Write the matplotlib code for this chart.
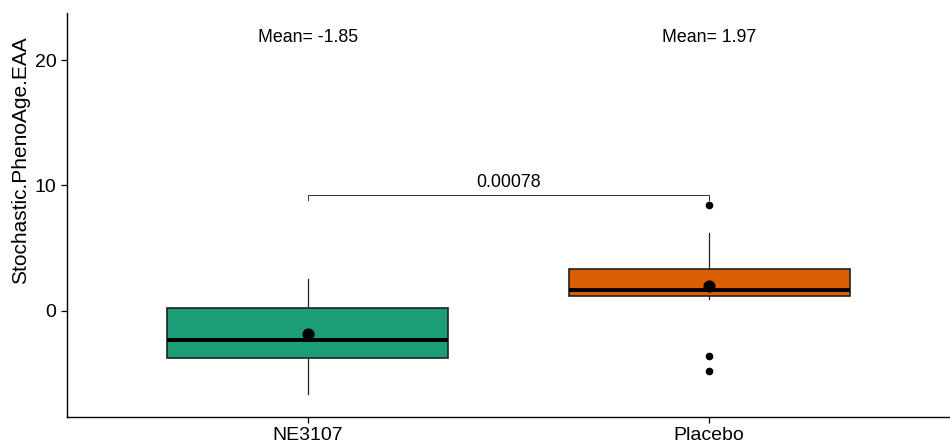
import matplotlib
matplotlib.use('Agg')
import matplotlib.pyplot as plt

plt.rcParams['font.family'] = ['Liberation Sans', 'DejaVu Sans']

# -------------------------------------------------------------------------------------------------------------------- #
# 数据
# -------------------------------------------------------------------------------------------------------------------- #
groups = ['NE3107', 'Placebo']
colors = ['#1B9E77', '#D95F02']
q1 = [-3.8, 1.2]
median = [-2.36, 1.65]
q3 = [0.19, 3.3]
whis_lo = [-6.65, 0.91]
whis_hi = [2.5, 6.18]
means = [-1.85, 1.97]
outliers = [[], [8.46, -3.64, -4.79]]
p_value = '0.00078'
bracket_y = 9.23
bracket_drop = 8.8
mean_label_y = 21.8

fig = plt.figure(figsize=(9.5, 4.48), dpi=100)
ax = fig.add_axes([67 / 950, 31 / 448, 883 / 950, 404 / 448])

stats = []
for i, g in enumerate(groups):
    stats.append(dict(label=g, q1=q1[i], med=median[i], q3=q3[i],
                      whislo=whis_lo[i], whishi=whis_hi[i], fliers=outliers[i]))
pos = list(range(1, len(groups) + 1))
bp = ax.bxp(stats, positions=pos, widths=0.7, patch_artist=True, showcaps=False,
            boxprops=dict(linewidth=1.2, edgecolor='#222222'),
            medianprops=dict(color='black', linewidth=2.8),
            whiskerprops=dict(color='#222222', linewidth=0.9),
            flierprops=dict(marker='o', markerfacecolor='black', markeredgecolor='black', markersize=4.5))
for patch, c in zip(bp['boxes'], colors):
    patch.set_facecolor(c)
for w in bp['whiskers']:
    w.set_zorder(1)

ax.scatter(pos, means, s=60, color='black', zorder=5)

for p, m in zip(pos, means):
    ax.text(p, mean_label_y, f'Mean= {m:.2f}', ha='center', va='center', fontsize=12.8)

ax.plot([pos[0], pos[0], pos[1], pos[1]], [bracket_drop, bracket_y, bracket_y, bracket_drop],
        color='#333333', linewidth=0.7)
ax.text((pos[0] + pos[1]) / 2, bracket_y + 0.35, p_value, ha='center', va='bottom', fontsize=12.8)

ax.set_xlim(0.4, 2.6)
ax.set_ylim(-8.48, 23.76)
ax.set_yticks([0, 10, 20])
ax.set_xticks(pos)
ax.set_xticklabels(groups)
ax.set_ylabel('Stochastic.PhenoAge.EAA', fontsize=15)
ax.yaxis.set_label_coords(-0.042, 0.635)
ax.tick_params(labelsize=14, length=4, width=0.9, colors='black')
for s in ['top', 'right']:
    ax.spines[s].set_visible(False)
for s in ['left', 'bottom']:
    ax.spines[s].set_linewidth(1.0)

fig.savefig('out.png', dpi=100)
